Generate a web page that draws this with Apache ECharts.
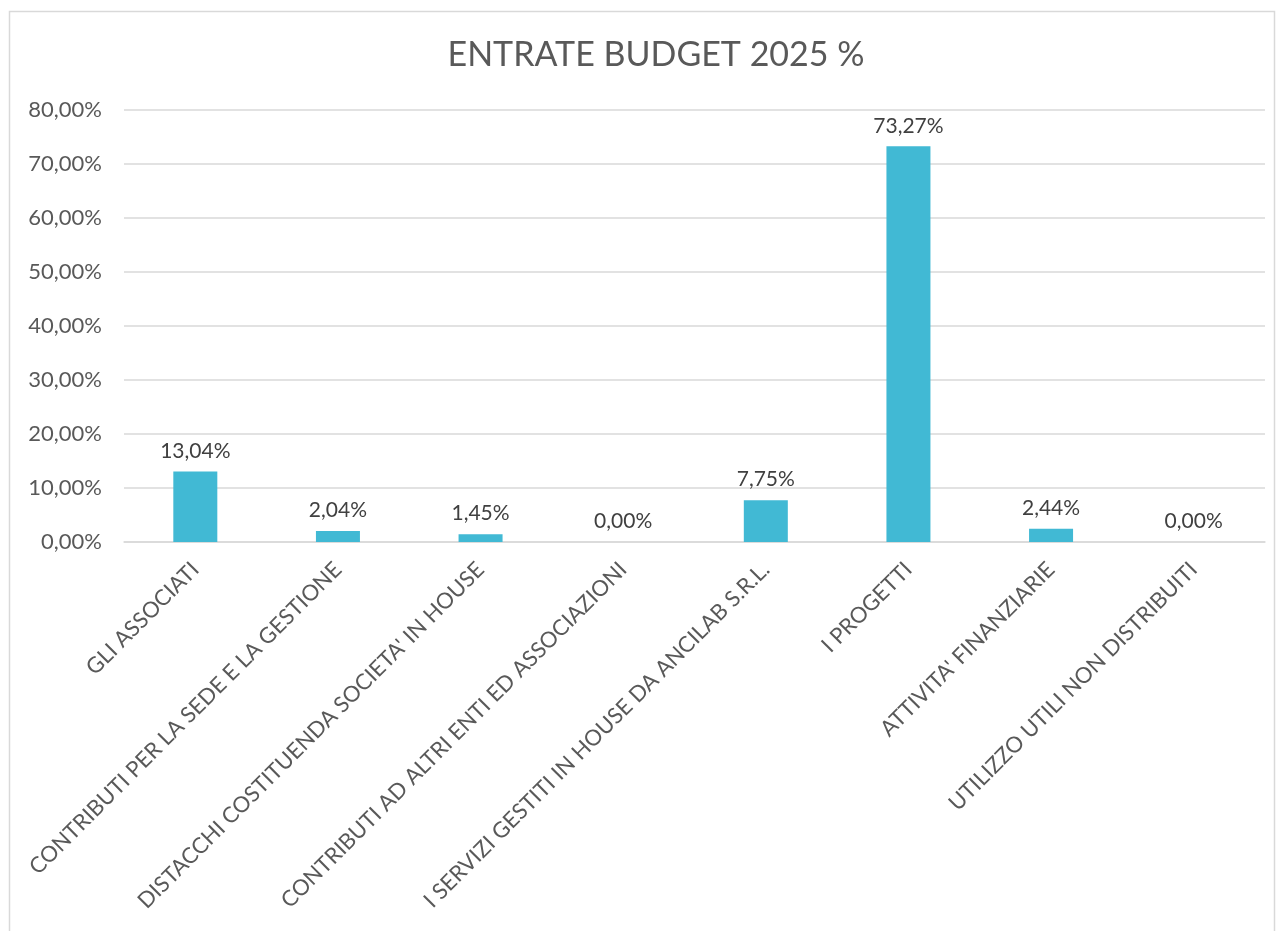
<!DOCTYPE html>
<html><head><meta charset="utf-8">
<script src="https://cdn.jsdelivr.net/npm/echarts@6/dist/echarts.min.js"></script>
<style>html,body{margin:0;padding:0;background:#fff}#c{width:1284px;height:931px}</style>
</head><body><div id="c"></div>
<script>
const categories = ["GLI ASSOCIATI","CONTRIBUTI PER LA SEDE E LA GESTIONE","DISTACCHI COSTITUENDA SOCIETA' IN HOUSE","CONTRIBUTI AD ALTRI ENTI ED ASSOCIAZIONI","I SERVIZI GESTITI IN HOUSE DA ANCILAB S.R.L.","I PROGETTI","ATTIVITA' FINANZIARIE","UTILIZZO UTILI NON DISTRIBUITI"];
const values = [13.04, 2.04, 1.45, 0.00, 7.75, 73.27, 2.44, 0.00];
const titleText = "ENTRATE BUDGET 2025 %";
const fmt = v => v.toFixed(2).replace('.', ',') + '%';
const font = "Lato, 'Open Sans', sans-serif";
const chart = echarts.init(document.getElementById('c'));
chart.setOption({
  animation: false,
  textStyle: {fontFamily: font},
  graphic: [{type:'rect', shape:{x:9.5,y:11.5,width:1265,height:940}, style:{fill:'none', stroke:'#D9D9D9', lineWidth:1.5}, silent:true}],
  title: {text: titleText, left: 651, textAlign: 'center', top: 33, textStyle:{fontFamily:font, fontSize:34, fontWeight:'normal', color:'#595959'}},
  grid: {left: 124, right: 19, top: 110, bottom: 389},
  xAxis: {type:'category', data: categories,
    axisLine:{lineStyle:{color:'#D9D9D9', width:1.5}}, axisTick:{show:false},
    axisLabel:{rotate:45, interval:0, color:'#595959', fontSize:22, fontFamily:font, margin:24}},
  yAxis: {type:'value', min:0, max:80, interval:10,
    axisLabel:{formatter: fmt, color:'#595959', fontSize:22, fontFamily:font, margin:22},
    splitLine:{lineStyle:{color:'#D9D9D9', width:1.5}}, axisLine:{show:false}, axisTick:{show:false}},
  series: [{type:'bar', data: values, barWidth: 44, itemStyle:{color:'#41B9D4'},
    label:{show:true, position:'top', distance:10, formatter: p => fmt(p.value), color:'#404040', fontSize:21, fontFamily:font}}]
});
</script></body></html>
